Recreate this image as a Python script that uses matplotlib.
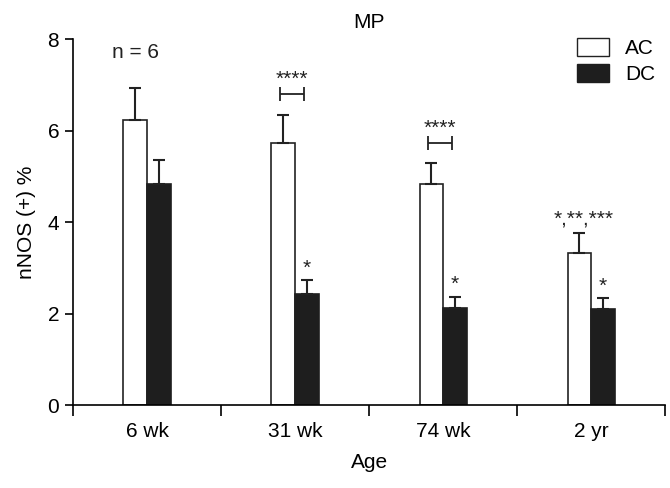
import numpy as np
import matplotlib
matplotlib.use('Agg')
import matplotlib.pyplot as plt
from matplotlib.patches import Patch

plt.rcParams['font.family'] = ['Liberation Sans', 'DejaVu Sans']

ages = ['6 wk', '31 wk', '74 wk', '2 yr']
ac_mean = [6.24, 5.72, 4.84, 3.32]
ac_err = [0.70, 0.61, 0.45, 0.43]
dc_mean = [4.84, 2.42, 2.13, 2.09]
dc_err = [0.51, 0.32, 0.24, 0.24]
ac_marks = ['', '', '', '*,**,***']
dc_marks = ['', '*', '*', '*']
pair_marks = ['', '****', '****', '']
pair_y = [0, 6.79, 5.73, 0]

w = 0.16
x = np.arange(len(ages)) + 0.5
ink = '#222222'

fig = plt.figure(figsize=(6.7, 4.88), dpi=100)
ax = fig.add_axes([0.109, 0.170, 0.884, 0.750])

ax.bar(x - w / 2, ac_mean, w, color='white', edgecolor=ink, linewidth=1.2, label='AC')
ax.bar(x + w / 2, dc_mean, w, color='#1e1e1e', edgecolor='#1e1e1e', linewidth=1.2, label='DC')
ax.errorbar(x - w / 2, ac_mean, yerr=[np.zeros(4), ac_err], fmt='none', ecolor=ink,
            elinewidth=1.5, capsize=4.5, capthick=1.5)
ax.errorbar(x + w / 2, dc_mean, yerr=[np.zeros(4), dc_err], fmt='none', ecolor=ink,
            elinewidth=1.5, capsize=4.5, capthick=1.5)

for i in range(len(ages)):
    if ac_marks[i]:
        ax.text(x[i] - w / 2 + 0.03, ac_mean[i] + ac_err[i] + 0.1, ac_marks[i], ha='center',
                va='bottom', fontsize=15, color=ink)
    if dc_marks[i]:
        ax.text(x[i] + w / 2, dc_mean[i] + dc_err[i] + 0.05, dc_marks[i], ha='center', va='bottom',
                fontsize=15, color=ink)
    if pair_marks[i]:
        ax.errorbar(x[i] - 0.02, pair_y[i], xerr=0.08, fmt='none', ecolor=ink,
                    elinewidth=1.3, capsize=5, capthick=1.3)
        ax.text(x[i] - 0.02, pair_y[i] + 0.12, pair_marks[i], ha='center', va='bottom',
                fontsize=15, color=ink)

ax.text(0.42, 7.7, 'n = 6', ha='center', va='center', fontsize=15, color=ink)

ax.set_xlim(0, 4)
ax.set_ylim(0, 8)
ax.set_yticks([0, 2, 4, 6, 8])
ax.set_xticks([0, 1, 2, 3, 4])
ax.set_xticklabels([])
ax.set_xticks(x, minor=True)
ax.set_xticklabels(ages, minor=True)
ax.tick_params(axis='x', which='minor', length=0, pad=12, labelsize=15)
ax.tick_params(axis='x', which='major', length=8, width=1.2, direction='out')
ax.tick_params(axis='y', length=6, width=1.2, labelsize=15, pad=4)
ax.spines['top'].set_visible(False)
ax.spines['right'].set_visible(False)
ax.spines['left'].set_linewidth(1.2)
ax.spines['bottom'].set_linewidth(1.2)

ax.set_xlabel('Age', fontsize=15, labelpad=9)
ax.set_ylabel('nNOS (+) %', fontsize=15, labelpad=8)
ax.set_title('MP', fontsize=15, pad=8, x=0.5)

handles = [Patch(facecolor='white', edgecolor=ink, label='AC'),
           Patch(facecolor='#1e1e1e', edgecolor='#1e1e1e', label='DC')]
ax.legend(handles=handles, loc='upper right', bbox_to_anchor=(1.015, 1.053), frameon=False,
          fontsize=15, handlelength=1.5, handleheight=0.9, labelspacing=0.3, handletextpad=0.8)

fig.savefig('out.png', dpi=100)
